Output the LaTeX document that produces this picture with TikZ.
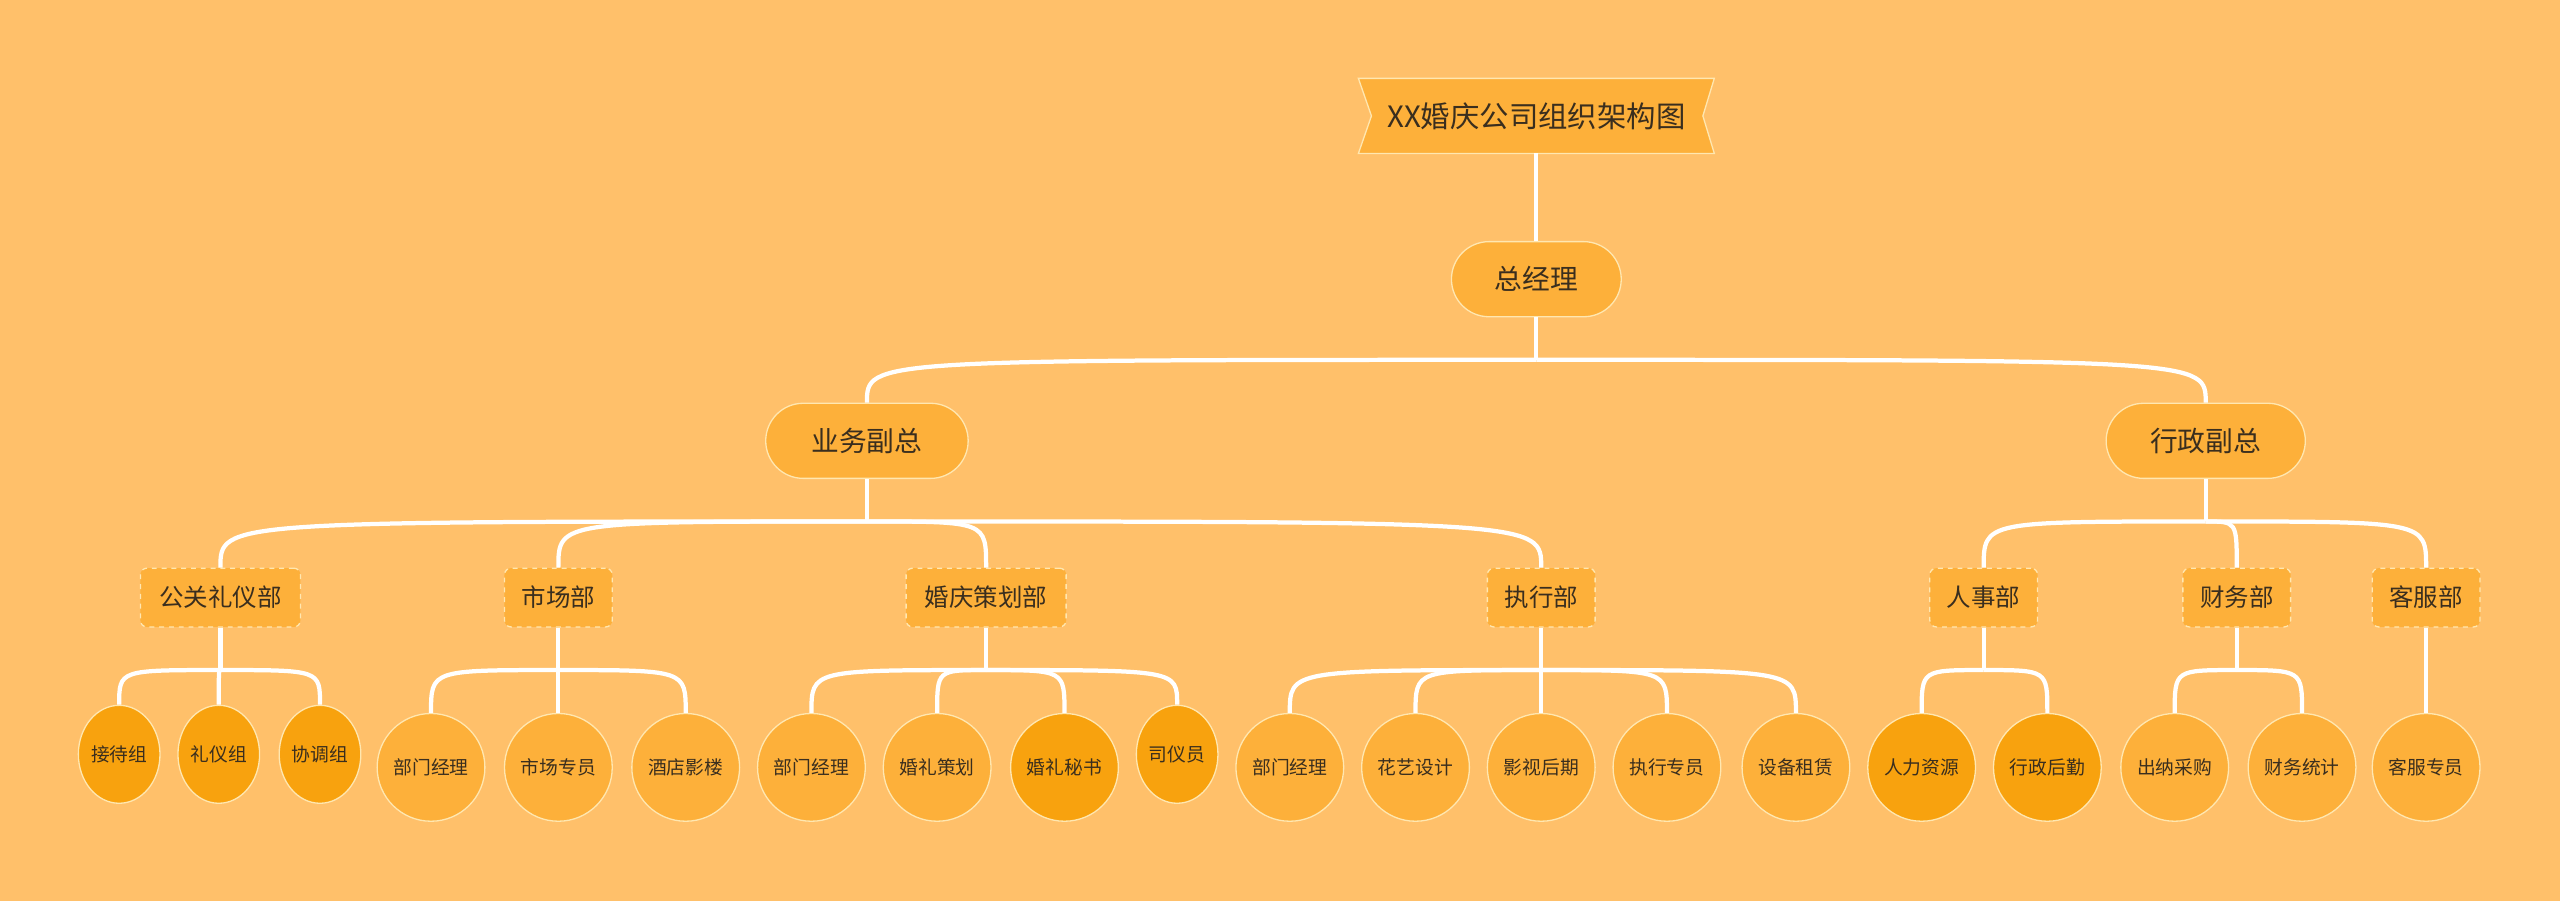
\documentclass[tikz,border=0pt]{standalone}
\usepackage{fontspec}
\setmainfont{Noto Sans CJK SC}
\usetikzlibrary{shapes.geometric}
\definecolor{bgc}{HTML}{FFC06A}
\definecolor{nodec}{HTML}{FDB03A}
\definecolor{deepc}{HTML}{F8A20E}
\definecolor{edgec}{HTML}{FFE7B0}
\definecolor{txt}{HTML}{3A2E1E}
\tikzset{
  every node/.style={text=txt,inner sep=0pt},
  pill/.style={rounded rectangle, fill=nodec, draw=edgec, line width=0.8pt, minimum height=46pt, font=\fontsize{17}{17}\selectfont},
  dept/.style={rectangle, rounded corners=4pt, fill=nodec, draw=edgec, dashed, line width=0.8pt, minimum height=36pt, font=\fontsize{15}{15}\selectfont},
  leaf/.style={ellipse, fill=nodec, draw=edgec, line width=0.8pt, minimum width=66pt, minimum height=66pt, font=\fontsize{11.5}{11.5}\selectfont},
  leafd/.style={leaf, fill=deepc},
  leafs/.style={leaf, fill=deepc, minimum width=50pt, minimum height=60pt},
  conn/.style={draw=white, line width=2.6pt},
}
\usetikzlibrary{shapes.misc}
\newcommand{\kids}[3]{% parent, drop, list of children
  \draw[conn] (#1.south) -- ++(0,#2) coordinate (j#1);
  \foreach \c in {#3} {\draw[conn] (j#1) .. controls (j#1 -| \c.north) and (j#1 -| \c.north) .. (\c.north);}
}
\begin{document}
\begin{tikzpicture}[x=1pt,y=-1pt]
\fill[bgc] (0,0) rectangle (1568,552);
\useasboundingbox (0,0) rectangle (1568,552);
\fill[nodec] (832,48) -- (1050,48) -- (1043,71) -- (1050,94) -- (832,94) -- (840,71) -- cycle;
\draw[edgec,line width=0.8pt] (832,48) -- (1050,48) -- (1043,71) -- (1050,94) -- (832,94) -- (840,71) -- cycle;
\node[font=\fontsize{18}{18}\selectfont] (title) at (941,71) {XX婚庆公司组织架构图};
\coordinate (tb) at (941,94);
\node[pill, minimum width=104pt] (gm) at (941,171) {总经理};
\node[pill, minimum width=124pt] (yw) at (531,270) {业务副总};
\node[pill, minimum width=122pt] (xz) at (1351,270) {行政副总};
\node[dept, minimum width=98pt] (d1) at (135,366) {公关礼仪部};
\node[dept, minimum width=66pt] (d2) at (342,366) {市场部};
\node[dept, minimum width=98pt] (d3) at (604,366) {婚庆策划部};
\node[dept, minimum width=66pt] (d4) at (944,366) {执行部};
\node[dept, minimum width=66pt] (d5) at (1215,366) {人事部};
\node[dept, minimum width=66pt] (d6) at (1370,366) {财务部};
\node[dept, minimum width=66pt] (d7) at (1486,366) {客服部};
\node[leafs] (a1) at (73,462) {接待组};
\node[leafs] (a2) at (134,462) {礼仪组};
\node[leafs] (a3) at (196,462) {协调组};
\node[leaf] (b1) at (264,470) {部门经理};
\node[leaf] (b2) at (342,470) {市场专员};
\node[leaf] (b3) at (420,470) {酒店影楼};
\node[leaf] (c1) at (497,470) {部门经理};
\node[leaf] (c2) at (574,470) {婚礼策划};
\node[leafd] (c3) at (652,470) {婚礼秘书};
\node[leafs] (c4) at (721,462) {司仪员};
\node[leaf] (e1) at (790,470) {部门经理};
\node[leaf] (e2) at (867,470) {花艺设计};
\node[leaf] (e3) at (944,470) {影视后期};
\node[leaf] (e4) at (1021,470) {执行专员};
\node[leaf] (e5) at (1100,470) {设备租赁};
\node[leafd] (f1) at (1177,470) {人力资源};
\node[leafd] (f2) at (1254,470) {行政后勤};
\node[leaf] (g1) at (1332,470) {出纳采购};
\node[leaf] (g2) at (1410,470) {财务统计};
\node[leaf] (h1) at (1486,470) {客服专员};
\draw[conn] (tb) -- (gm.north);
\kids{gm}{26}{yw,xz}
\kids{yw}{26}{d1,d2,d3,d4}
\kids{xz}{26}{d5,d6,d7}
\kids{d1}{26}{a1,a2,a3}
\kids{d2}{26}{b1,b2,b3}
\kids{d3}{26}{c1,c2,c3,c4}
\kids{d4}{26}{e1,e2,e3,e4,e5}
\kids{d5}{26}{f1,f2}
\kids{d6}{26}{g1,g2}
\kids{d7}{26}{h1}
\end{tikzpicture}
\end{document}
